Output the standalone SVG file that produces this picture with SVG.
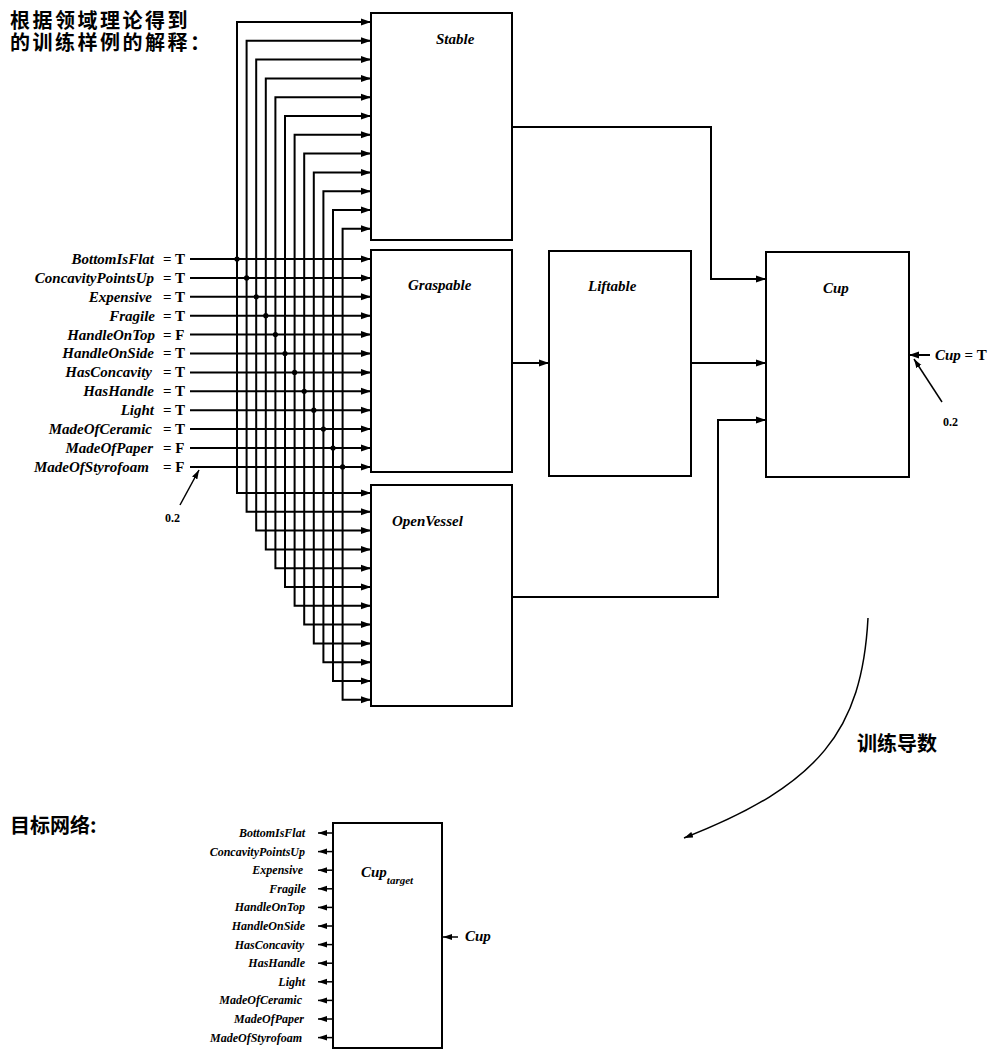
<svg xmlns="http://www.w3.org/2000/svg" width="991" height="1051" viewBox="0 0 991 1051">
<defs>
<marker id="ah" markerUnits="userSpaceOnUse" markerWidth="10" markerHeight="8" viewBox="0 0 10 8" refX="10" refY="4" orient="auto"><path d="M0,0.5 L10,4 L0,7.5 z" fill="#000"/></marker>
<marker id="ahs" markerUnits="userSpaceOnUse" markerWidth="9" markerHeight="7" viewBox="0 0 9 7" refX="9" refY="3.5" orient="auto"><path d="M0,0.5 L9,3.5 L0,6.5 z" fill="#000"/></marker>
</defs>
<style>
.box{fill:#fff;stroke:#000;stroke-width:2}
.ln{fill:none;stroke:#000;stroke-width:2;marker-end:url(#ah)}
.thin{fill:none;stroke:#000;stroke-width:1.5;marker-end:url(#ahs)}
.lab{font-family:"Liberation Serif",serif;font-weight:bold;font-style:italic;font-size:15px;fill:#000}
.inl{font-family:"Liberation Serif",serif;font-weight:bold;font-style:italic;font-size:15px;fill:#000;text-anchor:end}
.val{font-family:"Liberation Serif",serif;font-weight:bold;font-size:15px;fill:#000}
.sm{font-family:"Liberation Serif",serif;font-weight:bold;font-size:12px;fill:#000}
.tl{font-family:"Liberation Serif",serif;font-weight:bold;font-style:italic;font-size:12px;fill:#000;text-anchor:end}
.cjk{font-family:"Noto Sans CJK SC","Noto Sans",sans-serif;font-weight:bold;font-size:20px;fill:#000}
.dot{fill:#000}
</style>
<rect width="991" height="1051" fill="#fff"/>

<g id="title">
<text class="cjk" x="10" y="28" font-size="19" letter-spacing="2.5">根据领域理论得到</text>
<text class="cjk" x="10" y="50" font-size="19" letter-spacing="2.5">的训练样例的解释：</text>
</g>

<g id="connectors">
<path class="ln" d="M190,259 H371"/>
<path class="ln" d="M190,277.9 H371"/>
<path class="ln" d="M190,296.8 H371"/>
<path class="ln" d="M190,315.7 H371"/>
<path class="ln" d="M190,334.6 H371"/>
<path class="ln" d="M190,353.5 H371"/>
<path class="ln" d="M190,372.4 H371"/>
<path class="ln" d="M190,391.3 H371"/>
<path class="ln" d="M190,410.2 H371"/>
<path class="ln" d="M190,429.1 H371"/>
<path class="ln" d="M190,448 H371"/>
<path class="ln" d="M190,466.9 H371"/>
<path class="ln" d="M237,259 V22 H371"/>
<path class="ln" d="M246.6,277.9 V40.8 H371"/>
<path class="ln" d="M256.2,296.8 V59.6 H371"/>
<path class="ln" d="M265.8,315.7 V78.4 H371"/>
<path class="ln" d="M275.4,334.6 V97.2 H371"/>
<path class="ln" d="M285,353.5 V116 H371"/>
<path class="ln" d="M294.6,372.4 V134.8 H371"/>
<path class="ln" d="M304.2,391.3 V153.6 H371"/>
<path class="ln" d="M313.8,410.2 V172.4 H371"/>
<path class="ln" d="M323.4,429.1 V191.2 H371"/>
<path class="ln" d="M333,448 V210 H371"/>
<path class="ln" d="M342.6,466.9 V228.8 H371"/>
<path class="ln" d="M237,259 V493 H371"/>
<path class="ln" d="M246.6,277.9 V511.8 H371"/>
<path class="ln" d="M256.2,296.8 V530.6 H371"/>
<path class="ln" d="M265.8,315.7 V549.4 H371"/>
<path class="ln" d="M275.4,334.6 V568.2 H371"/>
<path class="ln" d="M285,353.5 V587 H371"/>
<path class="ln" d="M294.6,372.4 V605.8 H371"/>
<path class="ln" d="M304.2,391.3 V624.6 H371"/>
<path class="ln" d="M313.8,410.2 V643.4 H371"/>
<path class="ln" d="M323.4,429.1 V662.2 H371"/>
<path class="ln" d="M333,448 V681 H371"/>
<path class="ln" d="M342.6,466.9 V699.8 H371"/>
<circle class="dot" cx="237" cy="259" r="2.6"/>
<circle class="dot" cx="246.6" cy="277.9" r="2.6"/>
<circle class="dot" cx="256.2" cy="296.8" r="2.6"/>
<circle class="dot" cx="265.8" cy="315.7" r="2.6"/>
<circle class="dot" cx="275.4" cy="334.6" r="2.6"/>
<circle class="dot" cx="285" cy="353.5" r="2.6"/>
<circle class="dot" cx="294.6" cy="372.4" r="2.6"/>
<circle class="dot" cx="304.2" cy="391.3" r="2.6"/>
<circle class="dot" cx="313.8" cy="410.2" r="2.6"/>
<circle class="dot" cx="323.4" cy="429.1" r="2.6"/>
<circle class="dot" cx="333" cy="448" r="2.6"/>
<circle class="dot" cx="342.6" cy="466.9" r="2.6"/>
<path class="ln" d="M512,127 H711 V279 H766"/>
<path class="ln" d="M512,363 H549"/>
<path class="ln" d="M691,363 H766"/>
<path class="ln" d="M512,597 H718 V420 H766"/>
<path class="ln" d="M930,355 H909"/>
<path class="thin" d="M942,402 L914,359"/>
<path class="thin" d="M180,505 L199,470"/>
<path class="thin" d="M868,618 C862,730 820,785 684,838"/>
<path class="thin" d="M333,833 H318"/>
<path class="thin" d="M333,851.6 H318"/>
<path class="thin" d="M333,870.2 H318"/>
<path class="thin" d="M333,888.8 H318"/>
<path class="thin" d="M333,907.4 H318"/>
<path class="thin" d="M333,926 H318"/>
<path class="thin" d="M333,944.6 H318"/>
<path class="thin" d="M333,963.2 H318"/>
<path class="thin" d="M333,981.8 H318"/>
<path class="thin" d="M333,1000.4 H318"/>
<path class="thin" d="M333,1019 H318"/>
<path class="thin" d="M333,1037.6 H318"/>
<path class="thin" d="M458,937 H443"/>
</g>

<g id="inputs">
<text class="inl" x="154" y="264">BottomIsFlat</text><text class="val" x="163" y="264">= T</text>
<text class="inl" x="154" y="283">ConcavityPointsUp</text><text class="val" x="163" y="283">= T</text>
<text class="inl" x="152" y="302">Expensive</text><text class="val" x="163" y="302">= T</text>
<text class="inl" x="155" y="321">Fragile</text><text class="val" x="163" y="321">= T</text>
<text class="inl" x="155" y="340">HandleOnTop</text><text class="val" x="163" y="340">= F</text>
<text class="inl" x="154" y="358">HandleOnSide</text><text class="val" x="163" y="358">= T</text>
<text class="inl" x="152" y="377">HasConcavity</text><text class="val" x="163" y="377">= T</text>
<text class="inl" x="154" y="396">HasHandle</text><text class="val" x="163" y="396">= T</text>
<text class="inl" x="154" y="415">Light</text><text class="val" x="163" y="415">= T</text>
<text class="inl" x="152" y="434">MadeOfCeramic</text><text class="val" x="163" y="434">= T</text>
<text class="inl" x="153" y="453">MadeOfPaper</text><text class="val" x="163" y="453">= F</text>
<text class="inl" x="149" y="472">MadeOfStyrofoam</text><text class="val" x="163" y="472">= F</text>
<text class="sm" x="165" y="522">0.2</text>
</g>

<g id="node-stable">
<rect class="box" x="371" y="13" width="141" height="227"/>
<text class="lab" x="436" y="44">Stable</text>
</g>
<g id="node-graspable">
<rect class="box" x="371" y="250" width="141" height="222"/>
<text class="lab" x="408" y="290">Graspable</text>
</g>
<g id="node-liftable">
<rect class="box" x="549" y="251" width="142" height="225"/>
<text class="lab" x="588" y="291">Liftable</text>
</g>
<g id="node-cup">
<rect class="box" x="766" y="252" width="143" height="225"/>
<text class="lab" x="823" y="293">Cup</text>
<text class="lab" x="935" y="360">Cup <tspan font-style="normal">= T</tspan></text>
<text class="sm" x="943" y="426">0.2</text>
</g>
<g id="node-openvessel">
<rect class="box" x="371" y="485" width="141" height="221"/>
<text class="lab" x="392" y="526">OpenVessel</text>
</g>

<g id="label-derivative">
<text class="cjk" x="857" y="751">训练导数</text>
</g>

<g id="target-title">
<text class="cjk" x="10" y="833" font-size="18">目标网络:</text>
</g>

<g id="node-cuptarget">
<rect class="box" x="333" y="823" width="109" height="225"/>
<text class="lab" x="361" y="877">Cup<tspan font-size="11" dy="7">target</tspan></text>
<text class="tl" x="305" y="837">BottomIsFlat</text>
<text class="tl" x="305" y="855.6">ConcavityPointsUp</text>
<text class="tl" x="303" y="874.2">Expensive</text>
<text class="tl" x="306" y="892.8">Fragile</text>
<text class="tl" x="305" y="911.4">HandleOnTop</text>
<text class="tl" x="305" y="930">HandleOnSide</text>
<text class="tl" x="304" y="948.6">HasConcavity</text>
<text class="tl" x="305" y="967.2">HasHandle</text>
<text class="tl" x="305" y="985.8">Light</text>
<text class="tl" x="302" y="1004.4">MadeOfCeramic</text>
<text class="tl" x="304" y="1023">MadeOfPaper</text>
<text class="tl" x="302" y="1041.6">MadeOfStyrofoam</text>
<text class="lab" x="465" y="941" font-size="12">Cup</text>
</g>
</svg>
